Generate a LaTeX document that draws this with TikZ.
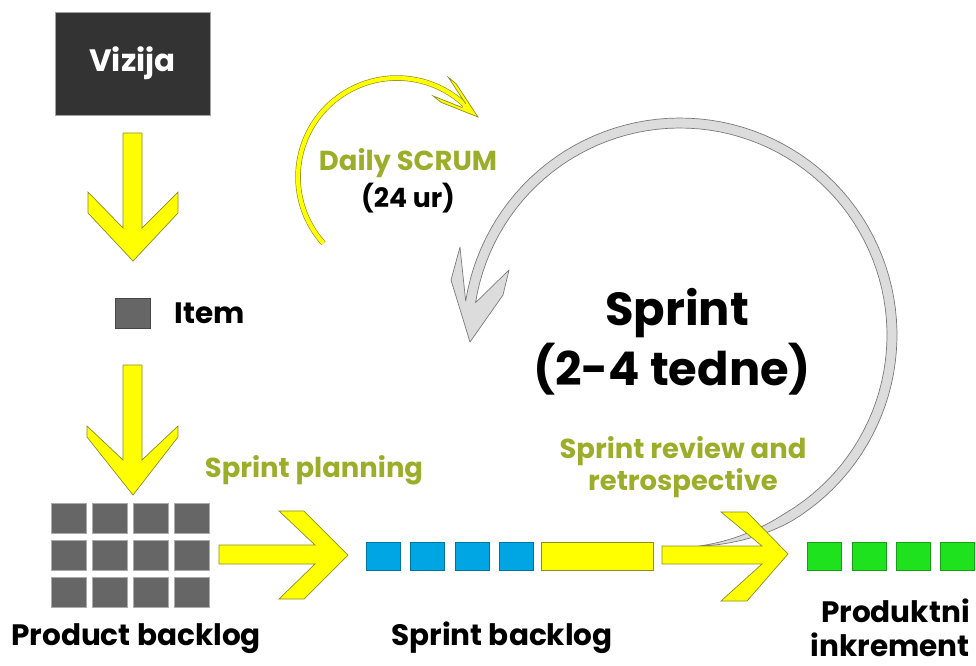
\documentclass[tikz,border=0pt]{standalone}
\usepackage{fontspec}
\setmainfont{Poppins}
\usetikzlibrary{positioning}
\definecolor{ScrDark}{HTML}{333333}
\definecolor{ScrGrey}{HTML}{666666}
\definecolor{ScrBlue}{HTML}{00A6E4}
\definecolor{ScrGreen}{HTML}{1FE21F}
\definecolor{ScrYellow}{HTML}{FFFF00}
\definecolor{ScrOlive}{HTML}{9BAE2A}
\definecolor{ScrEdge}{HTML}{8C8C28}
\definecolor{ScrLoop}{HTML}{DCDCDC}
\definecolor{ScrLoopEdge}{HTML}{7A7A7A}
\tikzset{
  scrblock/.style={
    fill=#1,
    draw=#1!70!black,
    line width=.4pt,
    minimum width=.875cm,
    minimum height=.75cm,
    inner sep=0pt
  },
  scrlabel/.style={font=\bfseries\fontsize{21}{25}\selectfont,inner sep=0pt,anchor=base},
  scrstep/.style={scrlabel,text=ScrOlive,font=\bfseries\fontsize{19.5}{23}\selectfont},
  scrbig/.style={scrlabel,font=\bfseries\fontsize{33}{40}\selectfont},
  scrarrow/.style={fill=ScrYellow,draw=ScrEdge,line width=.5pt,line join=miter},
  scrarc/.style={draw=ScrEdge,line width=.45pt,double=ScrYellow,double distance=3pt},
  scrloop/.style={fill=ScrLoop,draw=ScrLoopEdge,line width=.5pt,line join=round}
}

\begin{document}
\begin{tikzpicture}[x=.025cm,y=-.025cm]
  \useasboundingbox (0,0) rectangle (976,666);

  % sprint loop, behind everything else
  \draw[scrloop]
    plot[domain=85:-171,samples=90]
      ({680+(212+5*min(1,(85-\x)/25))*cos(\x)},{335+(212+5*min(1,(85-\x)/25))*sin(\x)})
    -- (460,247) -- (451,280) -- (470,342) -- (503,295) -- (509,270)
    -- plot[domain=-171:85,samples=90]
      ({680+(212-5*min(1,(85-\x)/25))*cos(\x)},{335+(212-5*min(1,(85-\x)/25))*sin(\x)})
    -- cycle;

  % vision, item, product backlog
  \node[fill=ScrDark,draw=ScrGrey!60,minimum width=3.875cm,minimum height=2.575cm,
    text=white,font=\bfseries\fontsize{22}{26}\selectfont] (vizija) at (132.5,63.5) {Vizija};
  \draw[scrarrow] (123,133) -- (142,133) -- (142,228) -- (178,192) -- (178,213)
    -- (133,261) -- (88,213) -- (88,192) -- (123,228) -- cycle;
  \node[scrblock=ScrGrey] (item) at (132.5,313) {};
  \node[scrlabel,right=.6cm of item] (itemtext) {Item};
  \draw[scrarrow] (123,365) -- (142,365) -- (142,460) -- (178,426) -- (178,437)
    -- (133,495) -- (87,437) -- (87,426) -- (123,460) -- cycle;
  \foreach \r in {0,1,2} {
    \foreach \c in {0,...,3} {
      \node[scrblock=ScrGrey,draw=ScrGrey!55] (pb-\r-\c) at ({68.5+41*\c},{518+37*\r}) {};
    }
  }
  \node[scrlabel] (pbtext) at (136,645) {Product backlog};

  % sprint planning
  \draw[scrarrow] (219,545) -- (315,545) -- (279,511) -- (304,511) -- (348,555)
    -- (304,599) -- (279,599) -- (315,564) -- (219,564) -- cycle;
  \node[scrstep] (planning) at (314,477) {Sprint planning};

  % sprint backlog
  \foreach \i in {0,...,3} {
    \node[scrblock=ScrBlue,minimum width=.85cm,minimum height=.7cm] (sb-\i) at ({383+44.5*\i},556) {};
  }
  \node[scrblock=ScrYellow,draw=ScrEdge,minimum width=2.8cm,minimum height=.7cm] (sbwork) at (597,556) {};
  \node[scrlabel] (sbtext) at (502,645) {Sprint backlog};

  % daily scrum
  \draw[scrarc] plot[domain=138:314,samples=60] ({397+99*cos(\x)},{177+99*sin(\x)});
  \draw[scrarrow] (465.7,103.8) -- (448.4,77.4) -- (456.1,83.7) -- (478,117)
    -- (441.0,102.3) -- (433.2,96.0) -- (462.5,107.6);
  \node[scrstep] (daily) at (408,170) {Daily SCRUM};
  \node[scrlabel,font=\bfseries\fontsize{19}{23}\selectfont] (dailyhours) at ([yshift=-.925cm]daily.base) {(24 ur)};

  % sprint
  \node[scrbig] (sprint) at (677,325) {Sprint};
  \node[scrbig] (sprintlen) at ([yshift=-1.5cm,xshift=-.12cm]sprint.base) {(2-4 tedne)};

  % review and increment
  \draw[scrarrow] (662,546) -- (762,546) -- (721,512) -- (747,512) -- (788,554)
    -- (747,601) -- (721,601) -- (762,564) -- (662,564) -- cycle;
  \node[scrstep] (review) at (683,458) {Sprint review and};
  \node[scrstep] (retro) at ([yshift=-.8cm]review.base) {retrospective};
  \foreach \i in {0,...,3} {
    \node[scrblock=ScrGreen,minimum width=.85cm,minimum height=.7cm] (inc-\i) at ({824.5+44.3*\i},556) {};
  }
  \node[scrlabel,anchor=base east] (inctext) at (970,622) {Produktni};
  \node[scrlabel,anchor=base east] (inctext2) at ([yshift=-.85cm]inctext.base east) {inkrement};
\end{tikzpicture}
\end{document}
